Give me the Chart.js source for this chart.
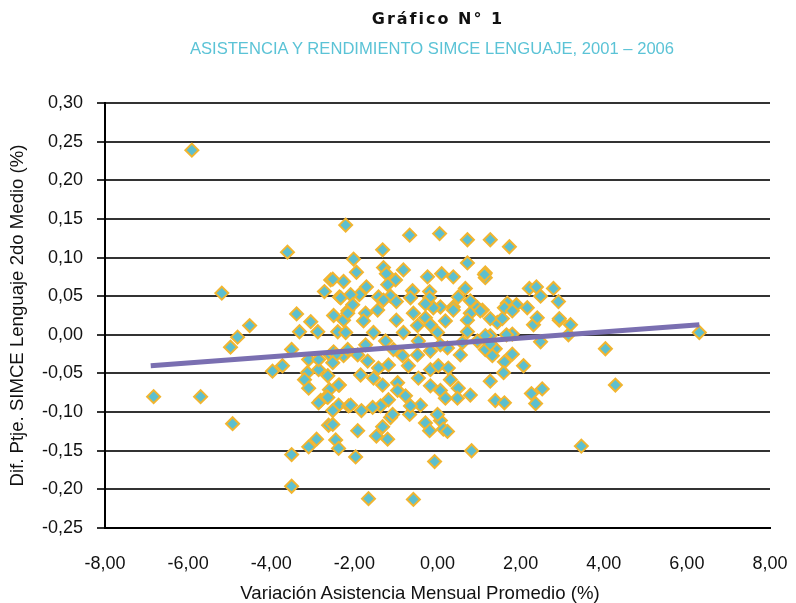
<!DOCTYPE html>
<html>
<head>
<meta charset="utf-8">
<script src="https://cdn.jsdelivr.net/npm/chart.js@4/dist/chart.umd.min.js"></script>
<style>
  body { margin: 0; background: #fff; }
  #wrap { position: relative; width: 796px; height: 603px; }
  #chart { position: absolute; left: 0; top: 0; }
  .title { position: absolute; left: 0; text-align: center; white-space: nowrap; }
  #t1 { top: 9px; width: 876px; font: bold 16px "DejaVu Sans", sans-serif; letter-spacing: 2px; color: #111; }
  #t2 { top: 39px; width: 864px; font: 16.6px "Liberation Sans", Arial, sans-serif; color: #5bc3d6; }
  #tx { top: 582px; width: 840px; font: 18.6px/21px "Liberation Sans", Arial, sans-serif; color: #111; }
</style>
</head>
<body>
<div id="wrap">
  <canvas id="chart" width="796" height="603"></canvas>
  <div class="title" id="t1">Gráfico N° 1</div>
  <div class="title" id="t2">ASISTENCIA Y RENDIMIENTO SIMCE LENGUAJE, 2001 – 2006</div>
  <div class="title" id="tx">Variación Asistencia Mensual Promedio (%)</div>
</div>
<script>
// variación de asistencia (%) por establecimiento
let asistencia = [
  -5.91, -2.21, -3.61, -1.32, -0.67, 0.05, 0.72, 1.27, 1.73, -2.02,
  0.72, -5.19, -4.52, -4.81, -4.98, -3.97, -3.73, -3.51, -3.39, -3.05,
  -2.88, -3.32, -6.83, -5.70, -3.13, -2.86, -2.64, -3.20, -3.10, -2.60,
  -2.36, -2.81, -2.67, -2.72, -2.36, -2.57, -2.26, -2.50, -2.16, -2.26,
  -2.40, -2.21, -2.57, -2.26, -2.50, -3.10, -2.86, -4.93, -3.51, -3.51,
  -3.10, -2.91, -2.62, -2.45, -2.38, -2.86, -2.64, -2.38, -2.52, -2.14,
  -1.92, -1.97, -1.47, -1.32, -1.20, -1.13, -0.67, -1.83, -0.29, -0.19,
  0.07, 0.14, 0.24, -0.07, 0.82, -1.66, -0.58, 6.30, 4.04, 4.28,
  3.46, 1.27, 1.39, 1.61, 2.26, 2.52, 2.36, 2.07, 1.80, 1.61,
  1.59, 1.15, 1.39, 1.32, 2.48, 3.15, 1.80, 1.66, 1.27, 1.15,
  3.20, 2.93, 2.31, 2.40, 1.44, 1.27, 1.15, 1.15, 2.21, 2.38,
  2.79, 2.48, 2.91, 1.68, 1.90, 1.61, 1.80, 2.16, 1.08, 1.56,
  2.93, -1.30, -1.95, -0.82, -1.23, -1.01, -1.20, -0.24, 0.10, 0.38,
  1.13, -2.52, -1.71, -1.88, -2.09, -2.33, -1.42, -1.13, -0.60, -0.65,
  -0.19, -0.19, 0.67, 0.50, 0.79, 0.96, 0.38, 0.07, -0.10, -0.29,
  -0.58, -0.99, -1.30, -1.44, -1.73, -2.04, -2.16, 0.79, 1.03, -1.78,
  -1.54, -0.99, -0.48, -0.29, -0.17, 0.19, 0.38, 0.72, 0.72, 0.00,
  -0.82, -1.25, -1.06, -0.84, -1.73, -1.92, -2.16, -2.45, -2.52, -1.68,
  -1.42, -1.18, -0.70, -0.17, 0.02, 0.26, 0.55, 1.27, 0.24, -0.17,
  -0.48, -0.46, 0.07, 0.60, 0.96, -1.85, -1.54, -2.38, -1.32, -0.96,
  -0.46, -0.17, 0.07, 0.31, 0.50, 0.79, 0.48, 0.19, -0.41, -0.65,
  -0.77, -1.18, -1.37, -1.56, -2.09, -1.08, 0.00, -0.96, -2.52
];
// diferencia de puntaje SIMCE lenguaje 2do medio (%)
let puntaje = [
  0.239, 0.142, 0.107, 0.110, 0.129, 0.131, 0.123, 0.123, 0.114, 0.098,
  0.093, 0.054, 0.012, -0.003, -0.016, -0.047, -0.040, -0.019, 0.027, 0.017,
  0.004, 0.004, -0.080, -0.080, -0.049, -0.045, -0.053, -0.058, -0.069, -0.071,
  -0.065, -0.085, -0.080, 0.056, 0.049, 0.071, 0.069, 0.025, 0.031, 0.019,
  0.004, 0.003, -0.027, -0.027, -0.022, -0.032, -0.032, -0.115, -0.155, -0.196,
  -0.145, -0.135, -0.117, -0.136, -0.147, -0.088, -0.081, -0.091, -0.098, -0.092,
  -0.124, -0.158, -0.131, -0.119, -0.135, -0.107, -0.103, -0.098, -0.114, -0.124,
  -0.111, -0.122, -0.125, -0.164, -0.150, -0.212, -0.213, 0.003, -0.018, -0.065,
  -0.144, -0.060, -0.085, -0.088, -0.076, -0.070, -0.089, -0.040, -0.025, -0.035,
  -0.049, -0.019, -0.018, -0.027, -0.009, 0.000, 0.001, 0.000, -0.001, -0.001,
  0.013, 0.019, 0.013, 0.022, 0.016, 0.021, 0.080, 0.074, 0.060, 0.062,
  0.060, 0.050, 0.043, 0.041, 0.039, 0.035, 0.031, 0.035, 0.032, 0.021,
  0.021, 0.087, 0.081, 0.084, 0.079, 0.071, 0.065, 0.075, 0.079, 0.075,
  0.078, 0.072, 0.062, 0.052, 0.052, 0.048, 0.049, 0.050, 0.057, 0.048,
  0.056, 0.048, 0.060, 0.049, 0.044, 0.035, 0.036, 0.036, 0.035, 0.040,
  0.028, 0.043, 0.045, 0.032, 0.028, 0.039, 0.028, 0.028, 0.031, 0.018,
  0.003, 0.019, 0.012, 0.022, 0.013, 0.018, 0.032, 0.019, 0.004, 0.003,
  0.003, -0.008, -0.019, -0.027, -0.013, -0.026, -0.019, -0.026, -0.036, -0.034,
  -0.043, -0.039, -0.040, -0.045, -0.040, -0.043, -0.026, -0.012, -0.017, -0.021,
  -0.026, -0.008, -0.013, -0.010, -0.008, -0.052, -0.056, -0.065, -0.065, -0.062,
  -0.056, -0.066, -0.072, -0.058, -0.069, -0.078, -0.082, -0.082, -0.091, -0.092,
  -0.079, -0.084, -0.092, -0.094, -0.091, -0.103, -0.103, -0.072, -0.116
];
// linea de tendencia (extremos)
let tendenciaX = [-6.9, 6.3];
let tendenciaY = [-0.040, 0.013];

let xTicks = [-8, -6, -4, -2, 0, 2, 4, 6, 8];

function coma(v) {
  return Number(v).toFixed(2).replace(".", ",");
}

let puntos = asistencia.map((x, i) => ({x: x, y: puntaje[i]}));
let tendencia = tendenciaX.map((x, i) => ({x: x, y: tendenciaY[i]}));

let tickFont = {family: "'Liberation Sans', Arial, sans-serif", size: 18};

new Chart(document.getElementById("chart"), {
  type: "scatter",
  data: {
    datasets: [
      {
        type: "line",
        data: tendencia,
        borderColor: "#7a6fb1",
        borderWidth: 5,
        pointRadius: 0,
        fill: false,
        order: 0
      },
      {
        data: puntos,
        pointStyle: "rectRot",
        pointRadius: 6.5,
        backgroundColor: "#5cbfcf",
        borderColor: "#f1b530",
        borderWidth: 2,
        order: 1
      }
    ]
  },
  options: {
    responsive: false,
    animation: false,
    events: [],
    layout: {padding: {top: 103, right: 26, bottom: 0, left: 0}},
    plugins: {legend: {display: false}, tooltip: {enabled: false}},
    scales: {
      x: {
        type: "linear",
        min: -8, max: 8,
        afterBuildTicks: s => { s.ticks = xTicks.map(v => ({value: v})); },
        afterFit: s => { s.height = 75; },
        // grid hidden, tickLength only used to push labels down
        grid: {display: false, drawTicks: true, tickLength: 23},
        border: {display: true, color: "#000", width: 2},
        ticks: {color: "#111", font: tickFont, padding: 2, maxRotation: 0, callback: v => coma(v)},
        title: {display: false}
      },
      y: {
        min: -0.25, max: 0.30,
        afterFit: s => { s.width = 105; },
        ticks: {stepSize: 0.05, color: "#111", font: tickFont, padding: 14, callback: v => coma(v)},
        grid: {color: "#333", lineWidth: 2, tickLength: 8, drawTicks: true},
        border: {display: true, color: "#000", width: 2},
        title: {display: true, text: "Dif. Ptje. SIMCE Lenguaje 2do Medio (%)", color: "#111",
                font: {family: tickFont.family, size: 18.6}, padding: {top: 7, bottom: 0}}
      }
    }
  }
});
</script>
</body>
</html>
